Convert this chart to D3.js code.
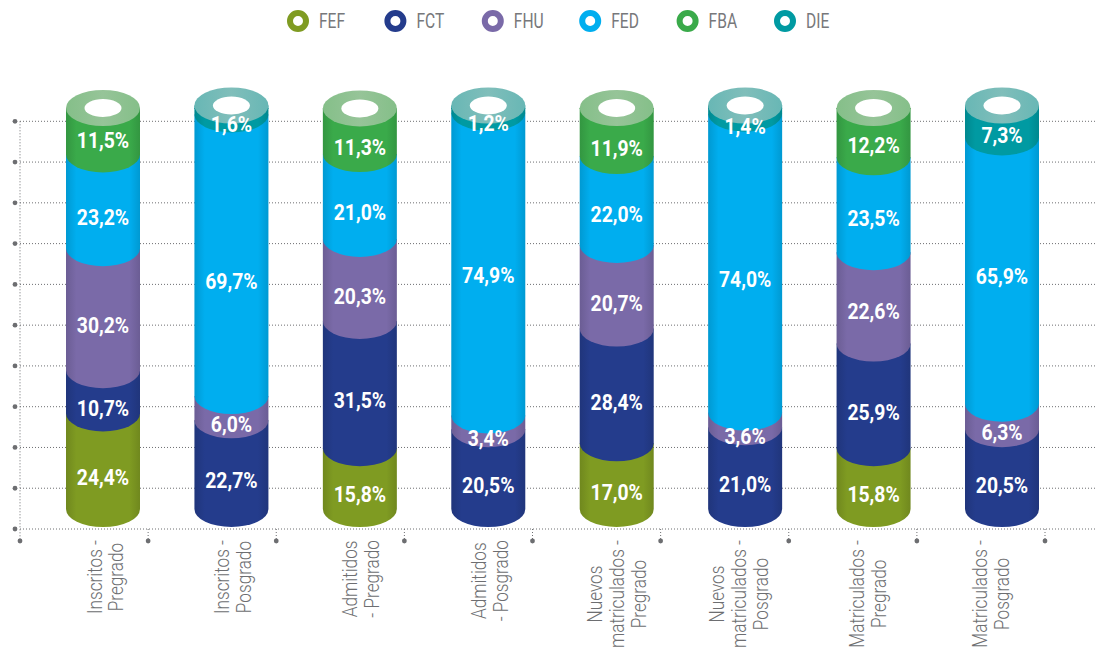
<!DOCTYPE html>
<html><head><meta charset="utf-8">
<script src="https://cdn.jsdelivr.net/npm/d3@7/dist/d3.min.js"></script>
<style>html,body{margin:0;background:#fff}svg{display:block}text{font-family:"Roboto",sans-serif}</style>
</head><body><svg id="c" width="1099" height="647"></svg>
<script>
const categories=[["Inscritos -","Pregrado"],["Inscritos -","Posgrado"],["Admitidos","- Pregrado"],["Admitidos","- Posgrado"],["Nuevos","matriculados -","Pregrado"],["Nuevos","matriculados -","Posgrado"],["Matriculados -","Pregrado"],["Matriculados -","Posgrado"]];
const seriesNames=["FEF","FCT","FHU","FED","FBA","DIE"];
const seriesColors=["#7f9b22","#243c8c","#7a6aa8","#00aeef","#3aaa4a","#009aa2"];
const FEF=[24.4,0,15.8,0,17.0,0,15.8,0];
const FCT=[10.7,22.7,31.5,20.5,28.4,21.0,25.9,20.5];
const FHU=[30.2,6.0,20.3,3.4,20.7,3.6,22.6,6.3];
const FED=[23.2,69.7,21.0,74.9,22.0,74.0,23.5,65.9];
const FBA=[11.5,0,11.3,0,11.9,0,12.2,0];
const DIE=[0,1.6,0,1.2,0,1.4,0,7.3];
const seriesValues=[FEF,FCT,FHU,FED,FBA,DIE];
const gridTicks=d3.range(0,101,10);

const svg=d3.select("#c");
const rx=37,ry=18,baseY=509;
const x=d3.scalePoint().domain(d3.range(8)).range([103,1002]);
const y=d3.scaleLinear().domain([0,100]).range([512,108]);
const grid=d3.scaleLinear().domain([0,100]).range([529,121.3]);
const tickX=d3.scaleLinear().domain([0,8]).range([20,1045]);
const fmt=v=>d3.format(".1f")(v).replace(".",",")+"%";
// hand placement of the wrapped axis labels and of a few value labels
const axisLabelOffset=[9.5,8.5,8.5,8.5,7,1,1,-4];
const labelNudge={"0-4":-7,"1-3":10,"3-3":-5,"7-3":-10,"1-5":-3,"3-5":-3,"5-5":-1,"7-5":-3,"6-3":-3,"4-3":-2,"6-2":-3,"6-4":-3};
const defs=svg.append("defs");
seriesColors.forEach((c,i)=>{
  const side=defs.append("linearGradient").attr("id","s"+i);
  [[0,d3.interpolateRgb(c,"#000")(0.12)],[.14,c],[.86,c],[1,d3.interpolateRgb(c,"#000")(0.12)]]
    .forEach(([o,k])=>side.append("stop").attr("offset",o).attr("stop-color",k));
  const cap=defs.append("linearGradient").attr("id","c"+i);
  [[0,.5],[.5,.62],[1,.5]].forEach(([o,w])=>cap.append("stop").attr("offset",o).attr("stop-color",d3.interpolateRgb(c,"#cfd4c8")(w)));
});
const dot={stroke:"#6d6e71","stroke-width":1,"stroke-dasharray":"1 2"};
const dotted=s=>{for(const k in dot)s.attr(k,dot[k]);return s};
// grid
const g=svg.append("g");
dotted(g.selectAll("line.h").data(gridTicks).join("line").attr("class","h")
  .attr("x1",20).attr("x2",1097).attr("y1",d=>grid(d)).attr("y2",d=>grid(d)));
g.selectAll("circle.l").data(gridTicks).join("circle").attr("class","l")
  .attr("cx",15).attr("cy",d=>grid(d)).attr("r",2.4).attr("fill","#6d6e71");
dotted(g.selectAll("line.v").data(d3.range(9)).join("line").attr("class","v")
  .attr("x1",d=>tickX(d)).attr("x2",d=>tickX(d)).attr("y1",d=>d?grid(0):grid(100)).attr("y2",541));
g.selectAll("circle.b").data(d3.range(9)).join("circle").attr("class","b")
  .attr("cx",d=>tickX(d)).attr("cy",541).attr("r",2.4).attr("fill","#6d6e71");
// bars
const labels=[];
categories.forEach((cat,b)=>{
  const cx=x(b);
  const bar=svg.append("g");
  let cum=0,last=0;
  const segs=[];
  seriesValues.forEach((vals,s)=>{
    const v=vals[b]; if(!v) return;
    segs.push({s,v,y0:cum?y(cum):baseY,y1:y(cum+v)});
    cum+=v; last=s;
  });
  segs.forEach(d=>{
    bar.append("path").attr("fill",`url(#s${d.s})`)
      .attr("d",`M${cx-rx},${d.y1}L${cx-rx},${d.y0}A${rx},${ry} 0 0 0 ${cx+rx},${d.y0}L${cx+rx},${d.y1}Z`);
  });
  const top=segs[segs.length-1].y1-(b%2?2.5:0);
  bar.append("rect").attr("x",cx-rx).attr("width",2*rx).attr("y",top).attr("height",segs[segs.length-1].y1-top+1).attr("fill",`url(#s${last})`);
  bar.append("ellipse").attr("cx",cx).attr("cy",top).attr("rx",rx).attr("ry",ry).attr("fill",`url(#c${last})`);
  bar.append("ellipse").attr("cx",cx).attr("cy",top).attr("rx",18.5).attr("ry",9).attr("fill","#fff");
  segs.forEach(d=>labels.push({x:cx,y:(d.y0+d.y1)/2+ry-2+(labelNudge[b+"-"+d.s]||0),t:fmt(d.v)}));
  // axis label: lines centred on each other, longest line starting just under the axis
  const n=cat.length, sx=0.86;
  const lines=cat.map(line=>svg.append("text").attr("text-anchor","middle").attr("font-size",20).attr("font-weight",300).attr("fill","#6d6e71").text(line));
  const maxLen=d3.max(lines,t=>t.node().getComputedTextLength())*sx;
  const ty=540+maxLen/2;
  lines.forEach((t,k)=>{
    const tx=cx+axisLabelOffset[b]+(k-(n-1)/2)*21.9;
    t.attr("transform",`translate(${tx},${ty}) rotate(-90) scale(${sx},1)`);
  });
});
svg.append("g").selectAll("text").data(labels).join("text")
  .attr("transform",d=>`translate(${d.x},${d.y}) scale(0.9,1)`).attr("text-anchor","middle").attr("dy","0.36em")
  .attr("font-size",21.5).attr("font-weight",700).attr("fill","#fff").text(d=>d.t);
// legend
const lx=d3.scalePoint().domain(seriesNames).range([298,785]);
const lg=svg.append("g").selectAll("g").data(seriesNames).join("g").attr("transform",d=>`translate(${lx(d)},21)`);
lg.append("circle").attr("r",8).attr("fill","#fff").attr("stroke",(d,i)=>seriesColors[i]).attr("stroke-width",6);
lg.append("text").attr("transform","translate(21,0) scale(0.8,1)").attr("dy","0.36em").attr("font-size",19.5).attr("fill","#77787b").text(d=>d);
</script></body></html>
